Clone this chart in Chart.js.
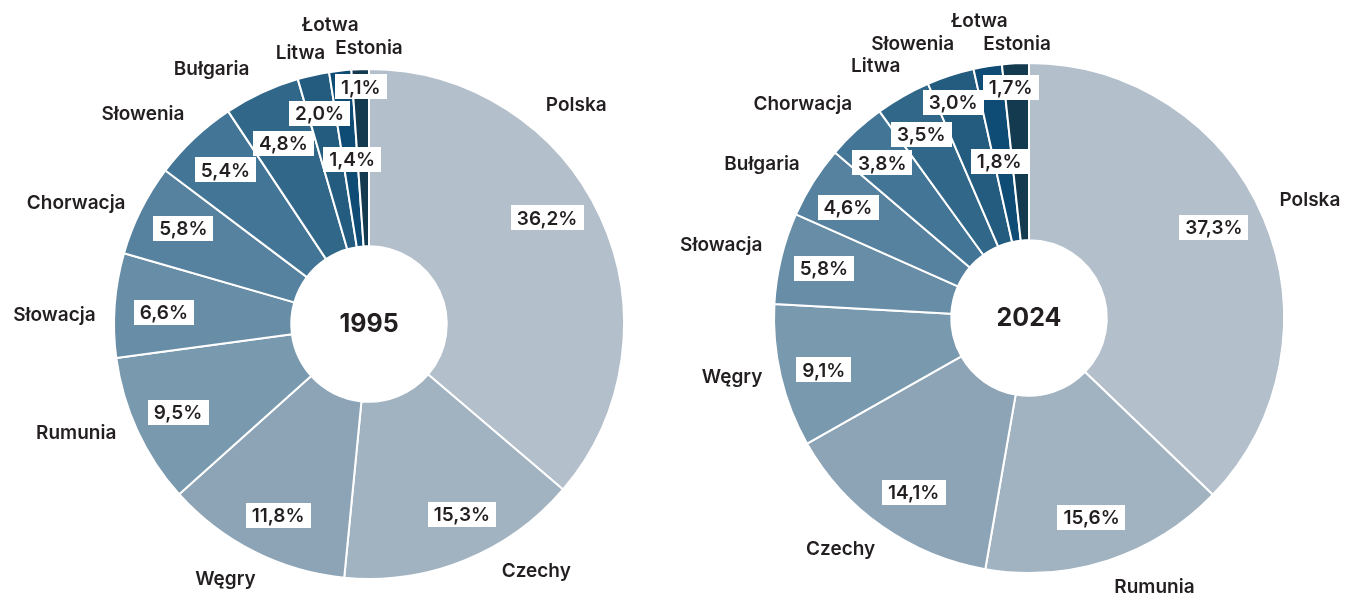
<!DOCTYPE html>
<html lang="pl">
<head>
<meta charset="utf-8">
<title>Udział w PKB regionu 1995 i 2024</title>
<script src="https://cdn.jsdelivr.net/npm/chart.js@4.4.1/dist/chart.umd.min.js"></script>
<style>
  html, body { margin: 0; padding: 0; background: #fff; }
  #wrap { position: relative; width: 1346px; height: 596px; overflow: hidden; }
  canvas { position: absolute; top: 0; }
  #c1995 { left: 0; }
  #c2024 { left: 680px; }
</style>
</head>
<body>
<div id="wrap">
  <canvas id="c1995" width="680" height="596"></canvas>
  <canvas id="c2024" width="666" height="596"></canvas>
</div>
<script>
// dane
const kraje1995 = ['Polska', 'Czechy', 'Węgry', 'Rumunia', 'Słowacja', 'Chorwacja', 'Słowenia', 'Bułgaria', 'Litwa', 'Łotwa', 'Estonia'];
const udzialy1995 = [36.2, 15.3, 11.8, 9.5, 6.6, 5.8, 5.4, 4.8, 2.0, 1.4, 1.1];

const kraje2024 = ['Polska', 'Rumunia', 'Czechy', 'Węgry', 'Słowacja', 'Bułgaria', 'Chorwacja', 'Litwa', 'Słowenia', 'Łotwa', 'Estonia'];
const udzialy2024 = [37.3, 15.6, 14.1, 9.1, 5.8, 4.6, 3.8, 3.5, 3.0, 1.8, 1.7];

// kolory wg pozycji wycinka (od najjaśniejszego)
const kolory = ['#b3bfcb', '#a1b3c1', '#8da4b6', '#7899ae', '#688da7', '#56819f', '#437696', '#316889', '#245c80', '#0f4c75', '#133a4f'];

// rozmieszczenie etykiet: nazwa [kąt od góry w stopniach, promień / R]
const nazwyPoz1995 = [[43.4, 1.183], [145.9, 1.17], [209.4, 1.147], [249.5, 1.226], [271.5, 1.234], [292.4, 1.242], [312.8, 1.208], [328.3, 1.175], [345.8, 1.096], [352.6, 1.18], [0, 1.082]];
const nazwyPoz2024 = [[67.3, 1.194], [155, 1.164], [219.2, 1.169], [258.8, 1.187], [283.3, 1.24], [300, 1.209], [313.4, 1.221], [328.7, 1.157], [337, 1.167], [350.5, 1.18], [357.5, 1.075]];
// procenty: [przesunięcie kąta, promień / R]
const procPoz1995 = [[-6, 0.813], [-4, 0.832], [-1.5, 0.832], [0, 0.825], [-1, 0.806], [0.7, 0.819], [0.3, 0.826], [-0.5, 0.784], [-0.6, 0.848], [0.6, 0.648], [0, 0.93]];
const procPoz2024 = [[-3, 0.807], [0.7, 0.82], [-1.7, 0.82], [-1, 0.83], [0, 0.827], [-0.8, 0.832], [-0.7, 0.837], [-0.8, 0.834], [-1.4, 0.897], [-1.4, 0.626], [-1.5, 0.908]];

const TEXT = '#231f20';
const FONT = 'Inter, "Liberation Sans", Arial, sans-serif';

const etykiety = {
  id: 'etykiety',
  afterDatasetsDraw(chart, args, opts) {
    const ctx = chart.ctx;
    const meta = chart.getDatasetMeta(0);
    const first = meta.data[0];
    const cx = first.x, cy = first.y, R = first.outerRadius;
    const pt = (deg, r) => {
      const a = deg * Math.PI / 180 - Math.PI / 2;
      return [cx + r * Math.cos(a), cy + r * Math.sin(a)];
    };
    ctx.save();
    ctx.textBaseline = 'middle';
    ctx.textAlign = 'center';

    // wartości w białych ramkach
    ctx.font = '600 19px ' + FONT;
    meta.data.forEach((arc, i) => {
      const mid = ((arc.startAngle + arc.endAngle) / 2 + Math.PI / 2) * 180 / Math.PI;
      const p = opts.proc[i];
      const [x, y] = pt(mid + p[0], p[1] * R);
      const txt = chart.data.datasets[0].data[i].toFixed(1).replace('.', ',') + '%';
      const w = ctx.measureText(txt).width + 12;
      const h = 25;
      ctx.fillStyle = '#fff';
      ctx.fillRect(Math.round(x - w / 2), Math.round(y - h / 2), Math.round(w), h);
      ctx.fillStyle = TEXT;
      ctx.fillText(txt, x, y + 1);
    });

    // nazwy krajów
    ctx.font = '600 19px ' + FONT;
    ctx.fillStyle = TEXT;
    chart.data.labels.forEach((lab, i) => {
      const p = opts.nazwy[i];
      const [x, y] = pt(p[0], p[1] * R);
      ctx.fillText(lab, x, y);
    });

    // rok w środku
    ctx.font = '700 25px ' + FONT;
    ctx.fillText(opts.rok, cx, cy);
    ctx.restore();
  }
};

function wykres(id, labels, values, rok, nazwy, proc, padding) {
  return new Chart(document.getElementById(id), {
    type: 'doughnut',
    data: {
      labels: labels,
      datasets: [{
        data: values,
        backgroundColor: kolory,
        borderColor: '#ffffff',
        borderWidth: 2
      }]
    },
    options: {
      responsive: false,
      animation: false,
      cutout: '30.5%',
      layout: { padding: padding },
      plugins: {
        legend: { display: false },
        tooltip: { enabled: false },
        etykiety: { rok: rok, nazwy: nazwy, proc: proc }
      }
    },
    plugins: [etykiety]
  });
}

wykres('c1995', kraje1995, udzialy1995, '1995', nazwyPoz1995, procPoz1995, { left: 113, right: 55, top: 68, bottom: 16 });
wykres('c2024', kraje2024, udzialy2024, '2024', nazwyPoz2024, procPoz2024, { left: 93, right: 61, top: 62, bottom: 22 });
</script>
</body>
</html>
